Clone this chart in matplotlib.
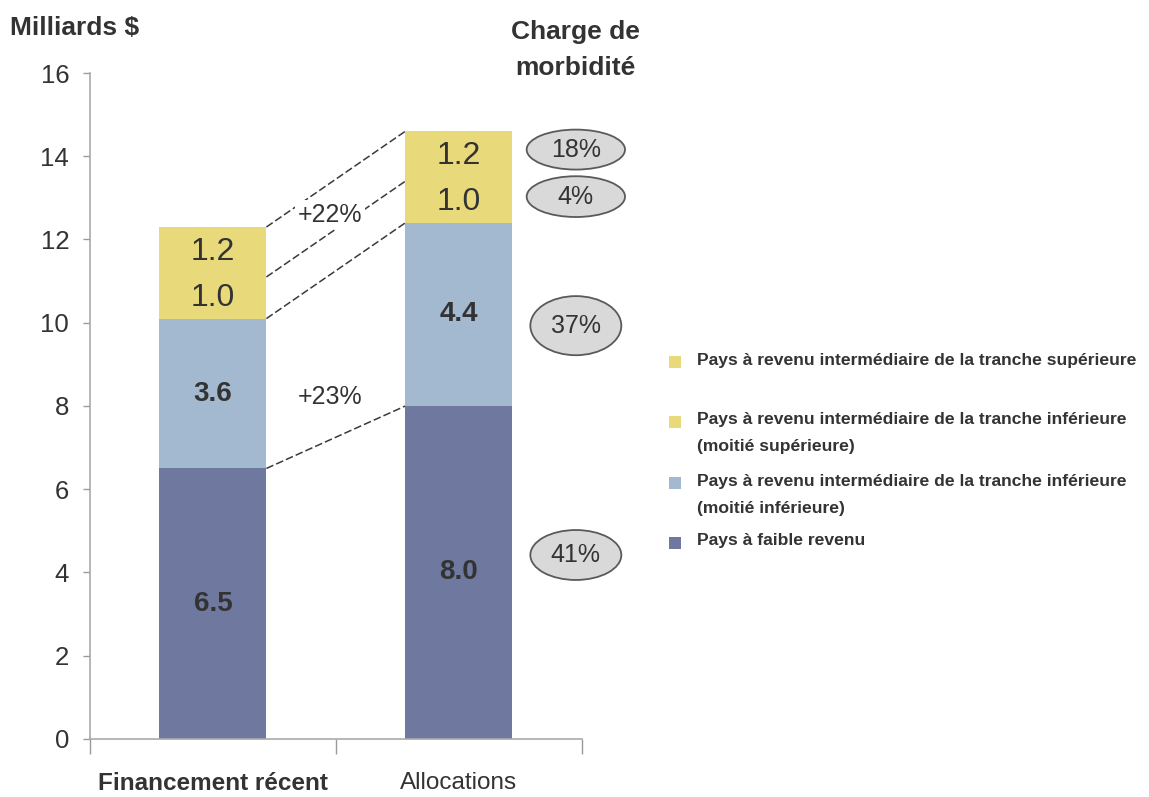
import matplotlib.pyplot as plt
from matplotlib.patches import Ellipse, Rectangle

plt.rcParams['font.family'] = ['Liberation Sans', 'DejaVu Sans']

categories = ['Financement récent', 'Allocations']
low_income = [6.5, 8.0]
lower_mid_low = [3.6, 4.4]
lower_mid_high = [1.0, 1.0]
upper_mid = [1.2, 1.2]

burden_labels = ['18%', '4%', '37%', '41%']
growth_labels = ['+22%', '+23%']

legend_labels = [
    'Pays à revenu intermédiaire de la tranche supérieure',
    'Pays à revenu intermédiaire de la tranche inférieure\n(moitié supérieure)',
    'Pays à revenu intermédiaire de la tranche inférieure\n(moitié inférieure)',
    'Pays à faible revenu',
]

c_low = '#6f79a0'
c_lowmid = '#a3b9d0'
c_yellow = '#e8d97a'
txt = '#333333'

fig = plt.figure(figsize=(11.49, 7.97), dpi=100)
ax = fig.add_axes([0.0783, 0.0728, 0.428, 0.8356])

x = [0, 1]
w = 0.435
series = [low_income, lower_mid_low, lower_mid_high, upper_mid]
colors = [c_low, c_lowmid, c_yellow, c_yellow]
bottoms = [0, 0]
seg_bounds = []
for vals, col in zip(series, colors):
    ax.bar(x, vals, width=w, bottom=bottoms, color=col, zorder=2)
    seg_bounds.append(list(bottoms))
    bottoms = [b + v for b, v in zip(bottoms, vals)]
seg_bounds.append(list(bottoms))

# value labels inside each segment
for i in range(2):
    b = 0
    for k, vals in enumerate(series):
        v = vals[i]
        if k < 2:
            ax.text(x[i], b + v / 2, f'{v:.1f}', ha='center', va='center',
                    fontsize=20, fontweight='bold', color=txt, zorder=4)
        else:
            ax.text(x[i], b + v / 2, f'{v:.1f}', ha='center', va='center',
                    fontsize=23, color=txt, zorder=4)
        b += v

# dashed connectors between the two bars
for k in [1, 2, 3, 4]:
    ax.plot([x[0] + w / 2, x[1] - w / 2], [seg_bounds[k][0], seg_bounds[k][1]],
            ls=(0, (5, 2)), color='#3a3a3a', lw=1.1, zorder=1)

ax.text(0.476, 12.6, growth_labels[0], ha='center', va='center', fontsize=18,
        color=txt, zorder=3, bbox=dict(facecolor='white', edgecolor='none', pad=2))
ax.text(0.476, 8.22, growth_labels[1], ha='center', va='center', fontsize=18,
        color=txt, zorder=3, bbox=dict(facecolor='white', edgecolor='none', pad=2))

# disease burden ellipses
ell_y = [14.16, 13.03, 9.93, 4.42]
ell_w = [0.4, 0.4, 0.37, 0.37]
ell_h = [0.96, 0.98, 1.42, 1.2]
for lab, ey, ew, eh in zip(burden_labels, ell_y, ell_w, ell_h):
    e = Ellipse((1.476, ey), ew, eh, facecolor='#d9d9d9', edgecolor='#5a5a5a',
                lw=1.3, clip_on=False, zorder=3)
    ax.add_patch(e)
    ax.text(1.476, ey, lab, ha='center', va='center', fontsize=18,
            color=txt, zorder=4, clip_on=False)

ax.set_xlim(-0.5, 1.5)
ax.set_ylim(0, 16)
ax.set_yticks(range(0, 17, 2))
ax.tick_params(axis='y', labelsize=18.5, colors='#999999', labelcolor=txt,
               length=5, width=1, pad=10)
ax.set_xticks(x)
ax.set_xticklabels(categories, fontsize=17.5, color=txt)
ax.get_xticklabels()[0].set_fontweight('bold')
ax.tick_params(axis='x', which='major', length=0, pad=24)
ax.set_xticks([-0.5, 0.5, 1.5], minor=True)
ax.tick_params(axis='x', which='minor', length=11, width=1, colors='#999999')

for s in ['top', 'right']:
    ax.spines[s].set_visible(False)
for s in ['left', 'bottom']:
    ax.spines[s].set_color('#aaaaaa')
    ax.spines[s].set_linewidth(1.2)

fig.text(10 / 1149, 1 - 28 / 797, 'Milliards $', ha='left', va='center',
         fontsize=19, fontweight='bold', color=txt)
fig.text(575 / 1149, 1 - 50 / 797, 'Charge de\nmorbidité', ha='center',
         va='center', fontsize=19, fontweight='bold', color=txt, linespacing=1.6)

# legend drawn by hand
leg_y = [360, 433, 495, 541]
leg_sq = [362, 422, 483, 543]
leg_cols = [c_yellow, c_yellow, c_lowmid, c_low]
for lab, ly, sy, col in zip(legend_labels, leg_y, leg_sq, leg_cols):
    fig.patches.append(Rectangle((669 / 1149, 1 - (sy + 6) / 797), 12 / 1149, 12 / 797,
                                 facecolor=col, edgecolor='none',
                                 transform=fig.transFigure))
    fig.text(697 / 1149, 1 - ly / 797, lab, ha='left', va='center',
             fontsize=12.6, fontweight='bold', color=txt, linespacing=1.95)

fig.savefig('out.png', dpi=100)
